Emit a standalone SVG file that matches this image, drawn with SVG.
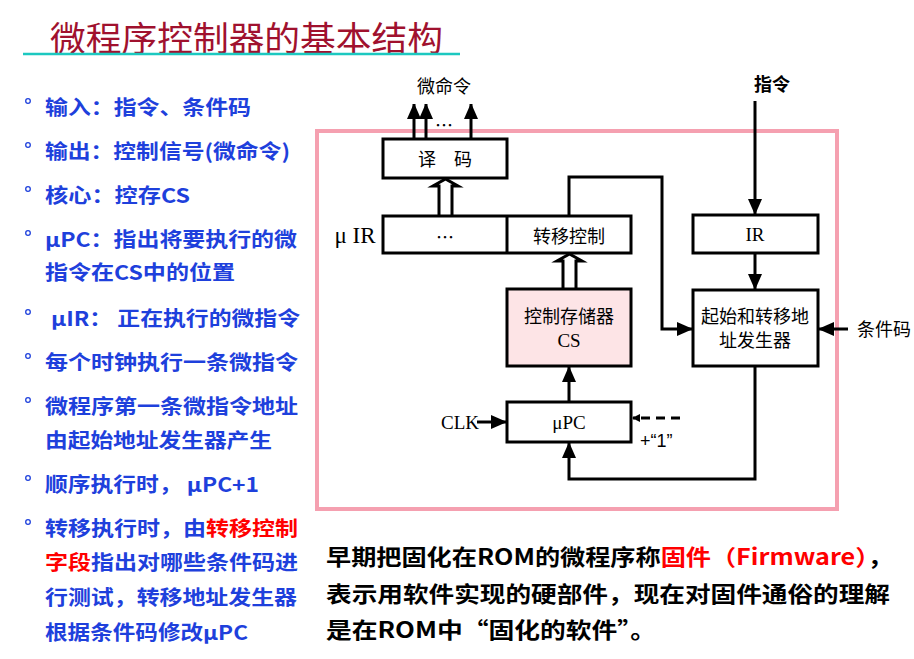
<svg xmlns="http://www.w3.org/2000/svg" width="914" height="659" viewBox="0 0 914 659">
<defs>
<style>
.b{font-family:"Noto Sans CJK SC","Noto Sans",sans-serif;font-weight:bold;font-size:20px;fill:#1E40DC;dominant-baseline:central}
.r{fill:#FF0000}
.dot{fill:none;stroke:#1E40DC;stroke-width:1.3}
.box{fill:#fff;stroke:#000;stroke-width:3}
.ln{fill:none;stroke:#000;stroke-width:3}
.t{font-family:"Noto Sans CJK SC",sans-serif;font-size:18px;fill:#000;text-anchor:middle;dominant-baseline:central}
.s{font-family:"Liberation Serif","Noto Sans CJK SC",serif;font-size:19px;fill:#000;text-anchor:middle;dominant-baseline:central}
.bt{font-family:"Noto Sans CJK SC","Noto Sans",sans-serif;font-weight:bold;font-size:22px;fill:#000;dominant-baseline:central}
</style>
<marker id="ah" markerWidth="14" markerHeight="14" refX="15" refY="7" orient="auto" markerUnits="userSpaceOnUse"><path d="M0,0 L16,7 L0,14 Z" fill="#000"/></marker>
<marker id="ahb" markerWidth="16" markerHeight="14" refX="15" refY="7" orient="auto" markerUnits="userSpaceOnUse"><path d="M0,0 L16,7 L0,14 Z" fill="#000"/></marker>
<marker id="ahs" markerWidth="8" markerHeight="8" refX="7" refY="4" orient="auto" markerUnits="userSpaceOnUse"><path d="M0,0 L8,4 L0,8 Z" fill="#000"/></marker>
</defs>
<rect width="914" height="659" fill="#fff"/>

<g id="title">
<text x="50" y="36" font-family="Noto Sans CJK SC,sans-serif" font-size="34" fill="#A0112E" dominant-baseline="central" textLength="393" lengthAdjust="spacingAndGlyphs">微程序控制器的基本结构</text>
<line x1="23" y1="54" x2="460" y2="54" stroke="#1CC8C0" stroke-width="2.5"/>
</g>

<g id="bullets">
<circle class="dot" cx="28" cy="101" r="2.3"/>
<text class="b" x="45" y="106" textLength="206" lengthAdjust="spacingAndGlyphs">输入：指令、条件码</text>
<circle class="dot" cx="28" cy="145" r="2.3"/>
<text class="b" x="45" y="150" textLength="245" lengthAdjust="spacingAndGlyphs">输出：控制信号(微命令)</text>
<circle class="dot" cx="28" cy="189" r="2.3"/>
<text class="b" x="45" y="194" textLength="145" lengthAdjust="spacingAndGlyphs">核心：控存CS</text>
<circle class="dot" cx="28" cy="233" r="2.3"/>
<text class="b" x="45" y="238" textLength="252" lengthAdjust="spacingAndGlyphs">μPC：指出将要执行的微</text>
<text class="b" x="45" y="271" textLength="190" lengthAdjust="spacingAndGlyphs">指令在CS中的位置</text>
<circle class="dot" cx="28" cy="312" r="2.3"/>
<text class="b" x="51" y="317" textLength="249" lengthAdjust="spacingAndGlyphs">μIR： 正在执行的微指令</text>
<circle class="dot" cx="28" cy="356" r="2.3"/>
<text class="b" x="45" y="361" textLength="253" lengthAdjust="spacingAndGlyphs">每个时钟执行一条微指令</text>
<circle class="dot" cx="28" cy="400" r="2.3"/>
<text class="b" x="45" y="405" textLength="253" lengthAdjust="spacingAndGlyphs">微程序第一条微指令地址</text>
<text class="b" x="45" y="439" textLength="227" lengthAdjust="spacingAndGlyphs">由起始地址发生器产生</text>
<circle class="dot" cx="28" cy="478" r="2.3"/>
<text class="b" x="45" y="483" textLength="214" lengthAdjust="spacingAndGlyphs">顺序执行时， μPC+1</text>
<circle class="dot" cx="28" cy="522" r="2.3"/>
<text class="b" x="45" y="527" textLength="253" lengthAdjust="spacingAndGlyphs">转移执行时，由<tspan class="r">转移控制</tspan></text>
<text class="b" x="45" y="561" textLength="253" lengthAdjust="spacingAndGlyphs"><tspan class="r">字段</tspan>指出对哪些条件码进</text>
<text class="b" x="45" y="596" textLength="252" lengthAdjust="spacingAndGlyphs">行测试，转移地址发生器</text>
<text class="b" x="45" y="631" textLength="203" lengthAdjust="spacingAndGlyphs">根据条件码修改μPC</text>
</g>

<rect id="frame" x="317" y="131" width="520" height="378" fill="none" stroke="#F5A0B0" stroke-width="4"/>

<g id="decoder">
<rect class="box" x="383" y="139" width="124" height="39"/>
<text class="t" x="445" y="158">译　码</text>
</g>

<g id="uIR">
<rect class="box" x="383" y="216" width="248" height="37"/>
<line class="ln" x1="507" y1="216" x2="507" y2="253" stroke-width="2"/>
<text class="s" x="355" y="235" style="font-size:23px">μ IR</text>
<text class="t" x="445" y="236">…</text>
<text class="t" x="569" y="235">转移控制</text>
</g>

<g id="IR">
<rect class="box" x="693" y="215" width="125" height="38"/>
<text class="s" x="755" y="234">IR</text>
</g>

<g id="addrgen">
<rect class="box" x="693" y="290" width="125" height="76"/>
<text class="t" x="755" y="315">起始和转移地</text>
<text class="t" x="755" y="339">址发生器</text>
</g>

<g id="CS">
<rect class="box" x="507" y="289" width="124" height="77" style="fill:#FDE4E6"/>
<text class="t" x="569" y="315">控制存储器</text>
<text class="s" x="569" y="340">CS</text>
</g>

<g id="uPC">
<rect class="box" x="507" y="402" width="124" height="40"/>
<text class="s" x="569" y="422">μPC</text>
</g>

<g id="labels">
<text class="t" x="444" y="85">微命令</text>
<text class="t" x="444" y="124">…</text>
<text class="t" x="772" y="83" font-weight="bold">指令</text>
<text class="s" x="460" y="422">CLK</text>
<text x="640" y="441" font-family="Liberation Sans,sans-serif" font-size="18" fill="#000" dominant-baseline="central">+“1”</text>
<text class="t" x="884" y="328">条件码</text>
</g>

<g id="connectors">
<line class="ln" x1="414" y1="139" x2="414" y2="104" marker-end="url(#ah)"/>
<line class="ln" x1="426" y1="139" x2="426" y2="104" marker-end="url(#ah)"/>
<line class="ln" x1="471" y1="139" x2="471" y2="104" marker-end="url(#ah)"/>
<path class="ln" d="M439,216 V186 H433 L445.5,179 L458,186 H452 V216" fill="#fff" stroke-width="2.5"/>
<path class="ln" d="M563,289 V261 H557 L569.5,254 L582,261 H576 V289" fill="#fff" stroke-width="2.5"/>
<path class="ln" d="M569,216 V177 H662 V329 H692" marker-end="url(#ahb)"/>
<line class="ln" x1="755" y1="101" x2="755" y2="214" marker-end="url(#ahb)"/>
<line class="ln" x1="755" y1="253" x2="755" y2="289" marker-end="url(#ahb)"/>
<line class="ln" x1="848" y1="329" x2="819" y2="329" marker-end="url(#ahb)"/>
<line class="ln" x1="569" y1="402" x2="569" y2="367" marker-end="url(#ahb)"/>
<line class="ln" x1="477" y1="422" x2="506" y2="422" marker-end="url(#ahb)"/>
<line class="ln" x1="680" y1="418" x2="633" y2="418" stroke-dasharray="9,6" marker-end="url(#ahs)"/>
<path class="ln" d="M755,366 V479 H569 V443" marker-end="url(#ahb)"/>
</g>

<g id="note">
<text class="bt" x="326" y="555" textLength="567" lengthAdjust="spacingAndGlyphs">早期把固化在ROM的微程序称<tspan fill="#FF0000">固件（Firmware）</tspan>，</text>
<text class="bt" x="326" y="592" textLength="564" lengthAdjust="spacingAndGlyphs">表示用软件实现的硬部件，现在对固件通俗的理解</text>
<text class="bt" x="326" y="628" textLength="330" lengthAdjust="spacingAndGlyphs">是在ROM中“固化的软件”。</text>
</g>
</svg>
